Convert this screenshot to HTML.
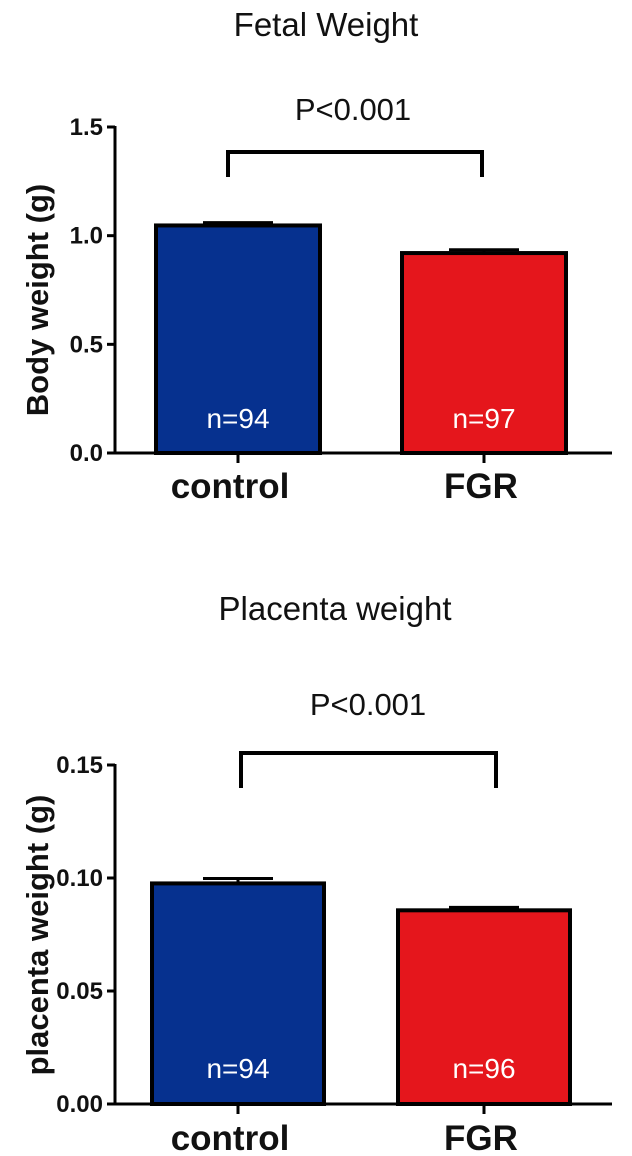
<!DOCTYPE html>
<html><head><meta charset="utf-8"><style>
body{margin:0;background:#fff;width:632px;height:1156px;overflow:hidden}
svg{display:block;font-family:"Liberation Sans",sans-serif}
</style></head><body>
<svg id="c" width="632" height="1156"></svg>
<script>
const categories=["control","FGR"];
const fetalValues=[1.047,0.92];
const fetalErrors=[0.013,0.015];
const fetalN=["n=94","n=97"];
const fetalTicks=[0,0.5,1.0,1.5];
const fetalTickLabels=["0.0","0.5","1.0","1.5"];
const placentaValues=[0.0976,0.0857];
const placentaErrors=[0.0022,0.0013];
const placentaN=["n=94","n=96"];
const placentaTicks=[0,0.05,0.10,0.15];
const placentaTickLabels=["0.00","0.05","0.10","0.15"];
const colors=["#06318f","#e5161c"];
const NS="http://www.w3.org/2000/svg";
const svg=document.getElementById('c');
function mk(t,a,p){const e=document.createElementNS(NS,t);for(const k in a)e.setAttribute(k,a[k]);(p||svg).appendChild(e);return e;}
function chart(cfg){
  const g=mk('g',{});
  
  
  const y=v=>cfg.y0-(v-cfg.min)/(cfg.max-cfg.min)*(cfg.y0-cfg.y1);
  const ax0=115,ax1=612,centers=[238,484],bw=cfg.bw;
  const t=mk('text',{x:cfg.titleX,y:cfg.titleY,'text-anchor':'middle','font-size':33,fill:'#111'},g);t.textContent=cfg.title;
  
  categories.forEach((c,i)=>{
    const cx=centers[i];
    const e=mk('line',{x1:cx-35,x2:cx+35,y1:y(cfg.vals[i]+cfg.errs[i]),y2:y(cfg.vals[i]+cfg.errs[i]),stroke:'#000','stroke-width':3},g);
    
    const e2=mk('line',{x1:cx,x2:cx,y1:y(cfg.vals[i]+cfg.errs[i]),y2:y(cfg.vals[i]),stroke:'#000','stroke-width':3},g);
    
    const r=mk('rect',{x:cx-bw/2,y:y(cfg.vals[i]),width:bw,height:y(0)-y(cfg.vals[i]),fill:colors[i],stroke:'#000','stroke-width':4},g);
    
    const n=mk('text',{x:cx,y:cfg.nY,'text-anchor':'middle','font-size':28,fill:'#fff'},g);n.textContent=cfg.n[i];
    
    const tk=mk('line',{x1:cx,x2:cx,y1:y(0),y2:y(0)+10,stroke:'#000','stroke-width':3},g);
    
    const xl=mk('text',{x:cx-(i?3:8),y:cfg.xlY,'text-anchor':'middle','font-size':35,'font-weight':'bold',fill:'#111'},g);xl.textContent=c;
    
  });
  const ya=mk('line',{x1:ax0,x2:ax0,y1:y(cfg.max)-1,y2:y(0)+1.5,stroke:'#000','stroke-width':3},g);
  
  const xa=mk('line',{x1:ax0-8,x2:ax1,y1:y(0),y2:y(0),stroke:'#000','stroke-width':3},g);
  
  cfg.ticks.forEach((v,i)=>{
    const l=mk('line',{x1:ax0-8,x2:ax0,y1:y(v),y2:y(v),stroke:'#000','stroke-width':3},g);
    
    const tl=mk('text',{x:ax0-12,y:y(v)+8,'text-anchor':'end','font-size':24,'font-weight':'bold',fill:'#111'},g);tl.textContent=cfg.tickLabels[i];
    
  });
  const yt=mk('text',{x:0,y:0,'text-anchor':'middle','font-size':31,'font-weight':'bold',fill:'#111',transform:`translate(${cfg.ytX},${cfg.ytY}) rotate(-90)`},g);yt.textContent=cfg.ytitle;
  
  const b=mk('path',{d:`M${cfg.bx0},${cfg.bLeg} V${cfg.bY} H${cfg.bx1} V${cfg.bLeg}`,fill:'none',stroke:'#000','stroke-width':4},g);
  
  const p=mk('text',{x:cfg.pX,y:cfg.pY,'text-anchor':'middle','font-size':31,fill:'#111'},g);p.textContent='P<0.001';
  
}
chart({name:'fetal-weight-chart',title:'Fetal Weight',titleX:326,titleY:36,min:0,max:1.5,y0:453,y1:127,bw:164,
  vals:fetalValues,errs:fetalErrors,n:fetalN,ticks:fetalTicks,tickLabels:fetalTickLabels,nY:428,xlY:498,
  ytitle:'Body weight (g)',ytX:48,ytY:300,bx0:228,bx1:482,bY:152,bLeg:177,pX:353,pY:120});
chart({name:'placenta-weight-chart',title:'Placenta weight',titleX:335,titleY:620,min:0,max:0.15,y0:1104,y1:765,bw:172,
  vals:placentaValues,errs:placentaErrors,n:placentaN,ticks:placentaTicks,tickLabels:placentaTickLabels,nY:1078,xlY:1150,
  ytitle:'placenta weight (g)',ytX:48,ytY:935,bx0:241,bx1:496,bY:753,bLeg:788,pX:368,pY:715});
</script>
</body></html>
